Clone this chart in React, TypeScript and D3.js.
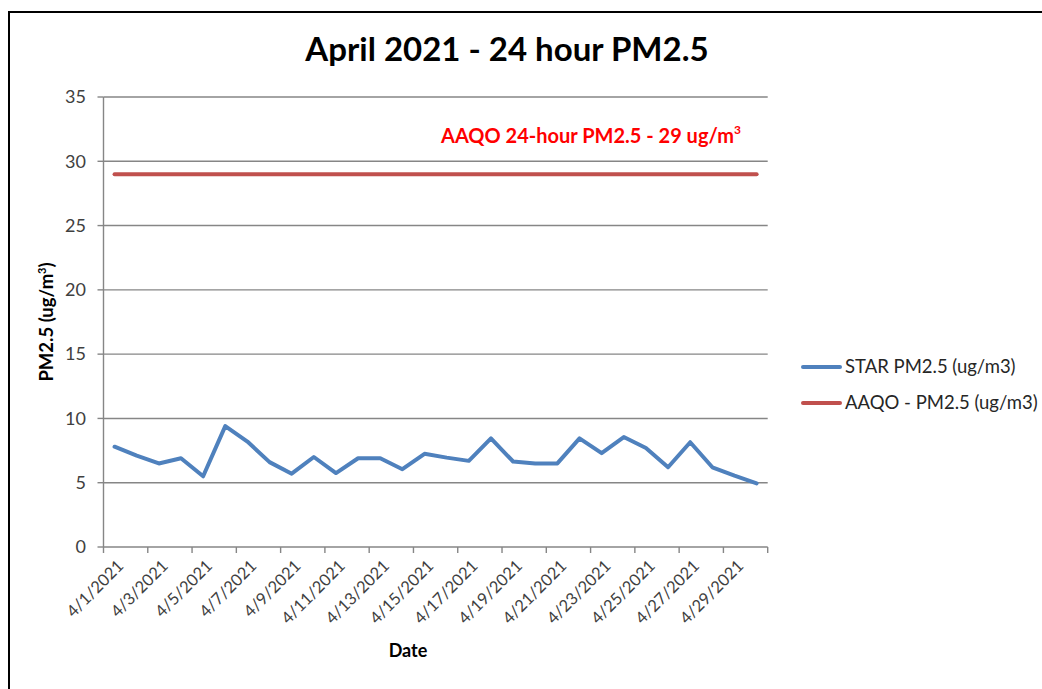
import React from "react";
import * as d3 from "d3";

const dates = [
  "4/1/2021","4/2/2021","4/3/2021","4/4/2021","4/5/2021","4/6/2021","4/7/2021","4/8/2021","4/9/2021","4/10/2021",
  "4/11/2021","4/12/2021","4/13/2021","4/14/2021","4/15/2021","4/16/2021","4/17/2021","4/18/2021","4/19/2021","4/20/2021",
  "4/21/2021","4/22/2021","4/23/2021","4/24/2021","4/25/2021","4/26/2021","4/27/2021","4/28/2021","4/29/2021","4/30/2021",
];
const starValues = [
  7.8, 7.1, 6.5, 6.9, 5.5, 9.4, 8.2, 6.6, 5.7, 7.0,
  5.75, 6.9, 6.9, 6.05, 7.25, 6.95, 6.7, 8.45, 6.65, 6.5,
  6.5, 8.45, 7.3, 8.55, 7.7, 6.2, 8.15, 6.2, 5.55, 4.95,
];
const aaqoValues = dates.map(() => 29);
const yTicks = [0, 5, 10, 15, 20, 25, 30, 35];
const seriesNames = ["STAR PM2.5 (ug/m3)", "AAQO - PM2.5 (ug/m3)"];
const seriesColors = ["#4F81BD", "#C0504D"];

const FONT = "Lato, 'Open Sans', sans-serif";

export default function App() {
  const left = 103.5, right = 767.7, top = 97, bottom = 547;
  const x = d3.scaleBand<string>().domain(dates).range([left, right]).padding(0);
  const bw = x.bandwidth();
  const cx = (d: string) => (x(d) as number) + bw / 2;
  const y = d3.scaleLinear().domain([0, 35]).range([bottom, top]);
  const line = d3.line<number>().x((_, i) => cx(dates[i])).y((v) => y(v));
  const grid = "#868686";

  const xTickIdx = d3.range(0, dates.length + 1, 2);
  const xLabelIdx = d3.range(0, dates.length, 2);

  return (
    <svg width={1042} height={689} style={{ position: "absolute", left: 0, top: 0, background: "#fff" }} fontFamily={FONT}>
      <rect x={0} y={0} width={1042} height={689} fill="#fff" />
      <path d="M9,700 L9,12 L1050,12" fill="none" stroke="#000" strokeWidth={2} />
      <text x={507} y={61} textAnchor="middle" fontSize={33} fontWeight="bold" fill="#000">April 2021 - 24 hour PM2.5</text>

      {yTicks.map((t) => (
        <g key={t}>
          {t > 0 && <line x1={left} x2={right} y1={y(t)} y2={y(t)} stroke={grid} strokeWidth={1.4} />}
          <line x1={left - 6} x2={left} y1={y(t)} y2={y(t)} stroke={grid} strokeWidth={1.4} />
          <text x={86} y={y(t)} dy="0.35em" textAnchor="end" fontSize={18} fill="#404040">{t}</text>
        </g>
      ))}
      <line x1={left} x2={left} y1={top} y2={bottom} stroke={grid} strokeWidth={1.4} />
      <line x1={left} x2={right} y1={bottom} y2={bottom} stroke={grid} strokeWidth={1.4} />
      {xTickIdx.map((i) => {
        const xp = left + i * bw;
        return <line key={i} x1={xp} x2={xp} y1={bottom} y2={bottom + 6} stroke={grid} strokeWidth={1.4} />;
      })}
      {xLabelIdx.map((i) => {
        const xp = cx(dates[i]) + 6;
        const yp = 563;
        return (
          <text key={i} x={xp} y={yp} textAnchor="end" fontSize={16.5} fill="#404040" transform={`rotate(-45, ${xp}, ${yp})`} dy="0.35em">
            {dates[i]}
          </text>
        );
      })}

      <path d={line(aaqoValues) as string} fill="none" stroke={seriesColors[1]} strokeWidth={4} strokeLinecap="round" />
      <path d={line(starValues) as string} fill="none" stroke={seriesColors[0]} strokeWidth={4} strokeLinejoin="round" strokeLinecap="round" />

      <text x={441} y={143} fontSize={20} fontWeight="bold" fill="#FF0000">
        AAQO 24-hour PM2.5 - 29 ug/m<tspan fontSize={12} dy={-9}>3</tspan>
      </text>

      <text transform="translate(53,322) rotate(-90)" textAnchor="middle" fontSize={18.5} fontWeight="bold" fill="#000">
        PM2.5 (ug/m<tspan fontSize={11} dy={-7}>3</tspan><tspan dy={7}>)</tspan>
      </text>
      <text x={408} y={657} textAnchor="middle" fontSize={18} fontWeight="bold" fill="#000">Date</text>

      {seriesNames.map((n, i) => (
        <g key={n}>
          <line x1={803} x2={840} y1={367 + i * 36} y2={367 + i * 36} stroke={seriesColors[i]} strokeWidth={4} strokeLinecap="round" />
          <text x={845} y={367 + i * 36} dy="0.35em" fontSize={18.5} fill="#262626">{n}</text>
        </g>
      ))}
    </svg>
  );
}
